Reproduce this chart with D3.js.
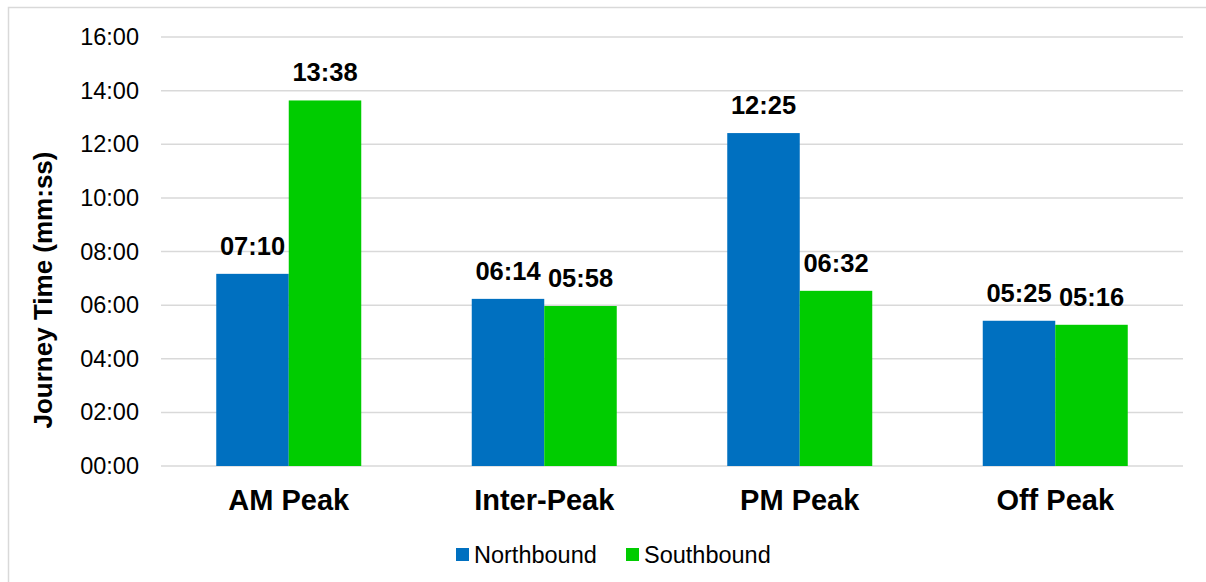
<!DOCTYPE html>
<html>
<head>
<meta charset="utf-8">
<script src="https://cdn.jsdelivr.net/npm/d3@7"></script>
<style>
  body { margin: 0; background: #fff; }
  text { font-family: "Liberation Sans", Arial, sans-serif; }
</style>
</head>
<body>
<script>
const w = 1206;
const h = 582;

// data (values in minutes)
const categories = ['AM Peak', 'Inter-Peak', 'PM Peak', 'Off Peak'];
const seriesNames = ['Northbound', 'Southbound'];
const northbound = [7 + 10 / 60, 6 + 14 / 60, 12 + 25 / 60, 5 + 25 / 60];
const southbound = [13 + 38 / 60, 5 + 58 / 60, 6 + 32 / 60, 5 + 16 / 60];
const yTicks = [0, 2, 4, 6, 8, 10, 12, 14, 16];
const colors = ['#0070C0', '#00CC00'];

const fmt = v => {
  let total = Math.round(v * 60);
  let m = Math.floor(total / 60), s = total % 60;
  return String(m).padStart(2, '0') + ':' + String(s).padStart(2, '0');
};

const plotL = 161, plotR = 1183, plotT = 37, plotB = 466;

let svg = d3.select('body')
  .append('svg')
  .attr('width', w)
  .attr('height', h);

// chart border
svg.append('rect')
  .attr('x', 8.5).attr('y', 7.5)
  .attr('width', w + 10).attr('height', h + 10)
  .attr('fill', 'none')
  .attr('stroke', '#d9d9d9')
  .attr('stroke-width', 1.5);

let xScale = d3.scaleBand()
  .domain(categories)
  .range([plotL, plotR]);

// group occupies ~57% of each band, centered
const groupW = xScale.bandwidth() * 0.5675;
let sub = d3.scaleBand()
  .domain(seriesNames)
  .range([(xScale.bandwidth() - groupW) / 2, (xScale.bandwidth() + groupW) / 2]);

let yScale = d3.scaleLinear()
  .domain([0, 16])
  .range([plotB, plotT]);

// gridlines
svg.append('g')
  .selectAll('line')
  .data(yTicks)
  .enter()
  .append('line')
  .attr('x1', plotL).attr('x2', plotR)
  .attr('y1', d => yScale(d)).attr('y2', d => yScale(d))
  .attr('stroke', '#d9d9d9')
  .attr('stroke-width', 1.5);

let yAxis = d3.axisLeft(yScale)
  .tickValues(yTicks)
  .tickFormat(d => fmt(d))
  .tickSize(0)
  .tickPadding(22);

let yg = svg.append('g')
  .attr('transform', `translate(${plotL}, 0)`)
  .call(yAxis);
yg.select('.domain').remove();
yg.selectAll('text')
  .attr('font-size', '23.5px')
  .attr('fill', '#000')
  .attr('font-family', '"Liberation Sans", Arial, sans-serif');

// bars
const table = categories.map((c, i) => ({ cat: c, vals: [northbound[i], southbound[i]] }));

let groups = svg.selectAll('g.cat')
  .data(table)
  .enter()
  .append('g')
  .attr('class', 'cat')
  .attr('transform', d => `translate(${xScale(d.cat)}, 0)`);

groups.selectAll('rect')
  .data(d => d.vals.map((v, j) => ({ name: seriesNames[j], v: v, j: j })))
  .enter()
  .append('rect')
  .attr('x', d => sub(d.name))
  .attr('width', sub.bandwidth())
  .attr('y', d => yScale(d.v))
  .attr('height', d => plotB - yScale(d.v))
  .attr('fill', d => colors[d.j]);

groups.selectAll('text.lbl')
  .data(d => d.vals.map((v, j) => ({ name: seriesNames[j], v: v, j: j })))
  .enter()
  .append('text')
  .attr('class', 'lbl')
  .attr('x', d => sub(d.name) + sub.bandwidth() / 2)
  .attr('y', d => yScale(d.v) - 19)
  .attr('text-anchor', 'middle')
  .attr('font-size', '25.5px')
  .attr('font-weight', 'bold')
  .text(d => fmt(d.v));

// category labels
svg.append('g')
  .selectAll('text')
  .data(categories)
  .enter()
  .append('text')
  .attr('x', d => xScale(d) + xScale.bandwidth() / 2)
  .attr('y', 510)
  .attr('text-anchor', 'middle')
  .attr('font-size', '29px')
  .attr('font-weight', 'bold')
  .text(d => d);

// y title
svg.append('text')
  .attr('transform', `translate(52, 290) rotate(-90)`)
  .attr('text-anchor', 'middle')
  .attr('font-size', '26px')
  .attr('font-weight', 'bold')
  .text('Journey Time (mm:ss)');

// legend
const legendX = [456, 626];
let legend = svg.selectAll('g.legend')
  .data(seriesNames)
  .enter()
  .append('g')
  .attr('class', 'legend')
  .attr('transform', (d, i) => `translate(${legendX[i]}, 548)`);

legend.append('rect')
  .attr('width', 13).attr('height', 13)
  .attr('fill', (d, i) => colors[i]);

legend.append('text')
  .attr('x', 18)
  .attr('y', 14.5)
  .attr('font-size', '23.5px')
  .text(d => d);
</script>
</body>
</html>
